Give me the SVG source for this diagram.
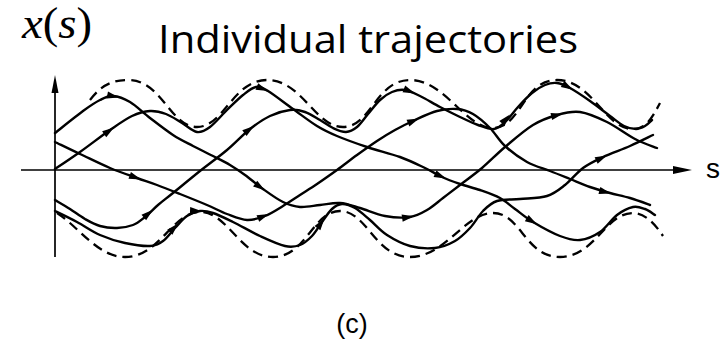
<svg xmlns="http://www.w3.org/2000/svg" xmlns:xlink="http://www.w3.org/1999/xlink" width="722" height="341" viewBox="0 0 722 341">
<style>
.traj{fill:none;stroke:#000;stroke-width:2.4;stroke-linecap:round;stroke-linejoin:round}
.env{fill:none;stroke:#000;stroke-width:2.3;stroke-dasharray:10 6}
.axis{stroke:#000;stroke-width:1.7;fill:none}
.head{fill:#000;stroke:none}
.title{font-family:"Open Sans","Liberation Sans",sans-serif;font-size:38px;fill:#000}
.math{font-family:"Liberation Serif","DejaVu Serif",serif;font-size:44px;fill:#000}
.it{font-style:italic}
.lbl{font-family:"Liberation Sans",Arial,sans-serif;fill:#000}
</style>
<defs>
<path id="ah" d="M0,0 L-12,-3.6 L-12,3.6 Z"/>
</defs>
<rect width="722" height="341" fill="#fff"/>
<text class="math" x="22" y="38" textLength="70" lengthAdjust="spacingAndGlyphs"><tspan class="it">x</tspan>(<tspan class="it">s</tspan>)</text>
<text class="title" x="158" y="53" textLength="420" lengthAdjust="spacingAndGlyphs">Individual trajectories</text>
<g id="axes">
<line class="axis" x1="55" y1="257" x2="55" y2="88"/>
<polygon class="head" points="55,75 51.5,93 58.5,93"/>
<line class="axis" x1="21" y1="170" x2="678" y2="170"/>
<polygon class="head" points="692,170 673,166 673,174"/>
<text class="lbl" x="706" y="178" font-size="28">s</text>
</g>
<g id="envelope">
<path class="env" d="M90,100 C100,87 110,80 128,80 C162,80 170,127 197,127 C224,127 233,80 267,80 C302,80 315,127 343,127 C371,127 376,80 410,80 C445,80 465,128 493,128 C521,128 523,80 557,80 C592,80 605,129 633,129 C646,129 652,118 660,103"/>
<path class="env" d="M57,213 C80,228 98,257 125,257 C160,257 172,212 200,212 C228,212 240,257 273,257 C306,257 313,211 340,211 C367,211 375,257 410,257 C445,257 465,213 493,213 C521,213 525,257 560,257 C595,257 605,213 633,213 C645,213 655,224 663,236"/>
</g>
<g id="trajectories">
<path id="trajA" class="traj" d="M55,133 C59.7,129.3 75.5,116.5 83,111 S95,102.5 100,100 S108,95.7 113,96 S123.8,98.3 130,102 S142.8,112.5 150,118 S165.8,130.3 173,135 S186.3,142.5 193,146 S206.8,152.8 213,156 S224.7,161.8 230,165 S239.5,171 245,175 S256.7,184.5 263,189 S276.8,199 283,202 S293.8,206.5 300,207 S313.3,205.7 320,205 S333.3,202.5 340,203 S352.5,205.8 360,208 S376.7,214.5 385,216 S403,218 410,217 S421.5,213.2 427,210 S437.5,202.2 443,198 S453.5,190 460,185 S474.5,174.3 482,168 S496.5,154.2 505,147 S524.3,130.3 533,125 S549.2,117.2 557,115 S571.7,110.8 580,112 S597.8,117.5 607,122 S626.7,134.7 635,139 S653.3,146.5 657,148"/>
<path id="trajB" class="traj" d="M55,169 C59.2,166.2 70.8,158.5 80,152 S101.3,136 110,130 S125.3,119.2 132,116 S144.3,111.3 150,111 S160.7,112 166,114 S176.8,120 182,123 S192.3,131.3 197,132 S205,130.7 210,127 S221.5,115.3 227,110 S238.2,98.8 243,95 S251.8,87.7 256,87 S261.8,87.3 268,91 S284.8,103.2 293,109 S309.7,121.5 317,126 S328.7,132.5 337,136 S356.5,143.5 367,147 S390.3,153.5 400,157 S418,164.7 425,168 S436.2,174.3 442,177 S453.7,181.8 460,184 S473.3,187.7 480,190 S494.2,194.8 500,198 S509.5,205 515,209 S525.5,217.5 533,222 S552.2,233 560,236 S573.3,240.7 580,240 S593.8,236.2 600,232 S611.5,219.2 617,215 S628.3,208 633,207 S641.3,207.7 645,209 S653.3,214 655,215"/>
<path id="trajC" class="traj" d="M55,142 C59.2,144 70.8,149.7 80,154 S100.5,164 110,168 S129.2,175.2 137,178 S149.8,182.3 157,185 S171.7,190.7 180,194 S199.2,201.7 207,205 S220.3,211.5 227,214 S240.7,219.7 247,220 S259,218.3 265,216 S277.2,209.5 283,206 S294.3,198.7 300,195 S310.8,188.2 317,184 S330.3,174.8 337,170 S350.3,159.8 357,155 S370.7,145.2 377,141 S388.7,133.5 395,130 S408,123.2 415,120 S430,112.8 437,111 S451,108.5 457,109 S467.5,110.8 473,114 S484.7,122.7 490,128 S498.8,140.3 505,146 S519.5,157.8 527,162 S542.8,168.2 550,171 S563.3,176.3 570,179 S583.3,184.7 590,187 S603.3,191.2 610,193 S623.3,196 630,198 S646.7,203.8 650,205"/>
<path id="trajD" class="traj" d="M55,211 C58.7,212.8 69.5,218 77,222 S92,231.5 100,235 S116.7,241.2 125,243 S143.7,246.3 150,246 S158.8,244 163,241 S171,232.2 175,228 S182.8,218.8 187,216 S195.7,211.5 200,211 S207.5,211.2 213,213 S225.2,218.2 233,222 S251.3,232 260,236 S278.3,244.5 285,246 S295.5,246.7 300,245 S308.3,239.8 312,236 S318.7,226.5 322,222 S328.7,212 332,209 S338.2,204.2 342,204 S350.3,205.3 355,208 S364.7,215.5 370,220 S380.3,230.7 387,235 S402,243.8 410,246 S427.5,248.8 435,248 S449.2,244.3 455,241 S465.3,233 470,228 S478.5,215.5 483,211 S490.8,203 497,201 S511.7,199.8 520,199 S539.5,198.3 547,196 S559,189.7 565,185 S576.7,172.7 583,168 S595.2,160.7 603,157 S621.7,149.7 630,146 S649.2,136.8 653,135"/>
<path id="trajE" class="traj" d="M55,200 C57.5,201.5 65,205.8 70,209 S80,216.2 85,219 S94.7,224.5 100,226 S111.5,228.2 117,228 S128.3,226.8 133,225 S140.8,220.3 145,217 S153.3,209 158,205 S166,198.7 173,193 S191,178.2 200,171 S218.7,157 227,150 S242.8,134.7 250,129 S263.3,119.2 270,116 S284.2,110.7 290,110 S300,110.3 305,112 S315.3,117.3 320,120 S328.7,126 333,128 S342,132.2 346,132 S353.3,130 357,127 S364.2,118.5 368,114 S376,103.7 380,100 S387.8,93.7 392,92 S400.3,89.3 405,90 S414.2,93.2 420,96 S433.3,103.5 440,107 S453.7,114 460,117 S472.3,123 478,125 S489.3,129.7 494,129 S502,124.7 506,121 S513.7,111.7 518,107 S527.5,96.7 532,93 S540.8,86.7 545,85 S552.8,82.5 557,83 S564.5,85 570,88 S583.3,96.3 590,101 S604.3,111.8 610,116 S619.7,123.8 624,126 S632.5,129 636,129 S642.3,127.5 645,126 S650.8,121 652,120"/>
</g>
<g id="arrowheads">
<use xlink:href="#ah" transform="translate(119,97.5) rotate(12)"/>
<use xlink:href="#ah" transform="translate(265,190.5) rotate(35)"/>
<use xlink:href="#ah" transform="translate(414,216.3) rotate(-9)"/>
<use xlink:href="#ah" transform="translate(563,113.8) rotate(-13)"/>
<use xlink:href="#ah" transform="translate(114,127.4) rotate(-35)"/>
<use xlink:href="#ah" transform="translate(268,91) rotate(22)"/>
<use xlink:href="#ah" transform="translate(446,178.6) rotate(24)"/>
<use xlink:href="#ah" transform="translate(537,224.3) rotate(31)"/>
<use xlink:href="#ah" transform="translate(141,179.4) rotate(20)"/>
<use xlink:href="#ah" transform="translate(269,214) rotate(-22)"/>
<use xlink:href="#ah" transform="translate(419,118.4) rotate(-23)"/>
<use xlink:href="#ah" transform="translate(611,193.6) rotate(15)"/>
<use xlink:href="#ah" transform="translate(178,223.4) rotate(-47)"/>
<use xlink:href="#ah" transform="translate(202,211.2) rotate(3)"/>
<use xlink:href="#ah" transform="translate(324.5,218.5) rotate(-54)"/>
<use xlink:href="#ah" transform="translate(607,155.4) rotate(-25)"/>
<use xlink:href="#ah" transform="translate(153,209.7) rotate(-40)"/>
<use xlink:href="#ah" transform="translate(254,126) rotate(-37)"/>
<use xlink:href="#ah" transform="translate(415,93.4) rotate(22)"/>
<use xlink:href="#ah" transform="translate(573,89.8) rotate(30)"/>
<use xlink:href="#ah" transform="translate(510,114.5) rotate(-48)"/>
</g>
<text class="lbl" x="352" y="333" font-size="27" text-anchor="middle">(c)</text>
</svg>
